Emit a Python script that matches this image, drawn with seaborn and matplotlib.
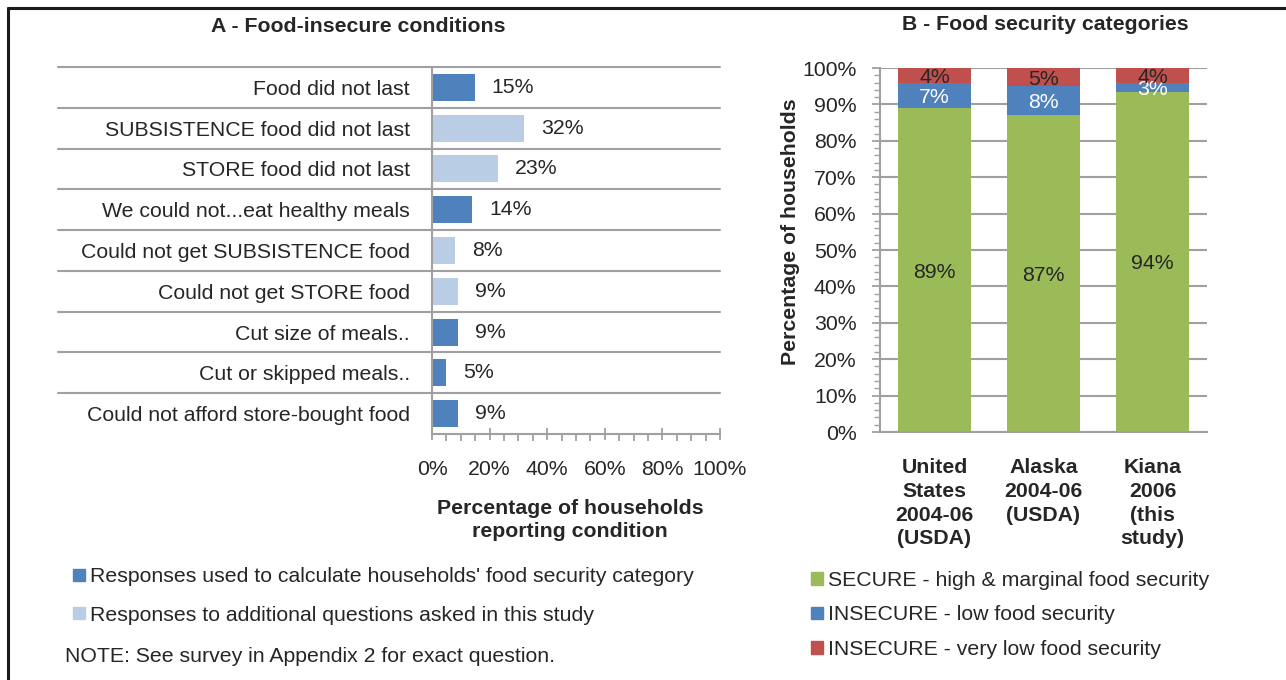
import matplotlib
matplotlib.use("Agg")
import matplotlib.pyplot as plt
import matplotlib.ticker as mticker
from matplotlib.patches import Patch
from matplotlib.lines import Line2D
import numpy as np
import pandas as pd
import seaborn as sns

# ---- panel A data
conditions = ["Food did not last", "SUBSISTENCE food did not last", "STORE food did not last",
              "We could not...eat healthy meals", "Could not get SUBSISTENCE food",
              "Could not get STORE food", "Cut size of meals..", "Cut or skipped meals..",
              "Could not afford store-bought food"]
pct_reporting = [15, 32, 23, 14, 8, 9, 9, 5, 9]
response_type = ["used", "additional", "additional", "used", "additional",
                 "additional", "used", "used", "used"]
legend_a = {"used": "Responses used to calculate households' food security category",
            "additional": "Responses to additional questions asked in this study"}

# ---- panel B data
regions = ["United\nStates\n2004-06\n(USDA)", "Alaska\n2004-06\n(USDA)", "Kiana\n2006\n(this\nstudy)"]
secure = [89, 87, 93.5]
low_security = [7, 8, 2.5]
very_low_security = [4, 5, 4]
legend_b = ["SECURE - high & marginal food security", "INSECURE - low food security",
            "INSECURE - very low food security"]

dark_blue, light_blue = "#4F81BD", "#B9CDE5"
green, red = "#9BBB59", "#C0504D"
grey = "#A0A0A0"
txt = "#262626"
fs = 15.3

sns.set_theme(style="white")
plt.rcParams["font.family"] = ["Liberation Sans", "Arial", "DejaVu Sans"]
plt.rcParams["text.color"] = txt
plt.rcParams["axes.labelcolor"] = txt
plt.rcParams["xtick.color"] = grey
plt.rcParams["ytick.color"] = grey
plt.rcParams["xtick.labelcolor"] = txt
plt.rcParams["ytick.labelcolor"] = txt

W, H = 1286, 680
fig = plt.figure(figsize=(W / 100, H / 100), dpi=100)

def fig_box(x0, y0, x1, y1):
    # pixel box (top-left origin) -> figure fraction rect
    return [x0 / W, 1 - y1 / H, (x1 - x0) / W, (y1 - y0) / H]

# ================= Panel A
axa = fig.add_axes(fig_box(432, 67, 720, 434))
df_a = pd.DataFrame({"condition": conditions, "pct": pct_reporting, "type": response_type})
sns.barplot(data=df_a, x="pct", y="condition", hue="type", orient="h", dodge=False,
            palette={"used": dark_blue, "additional": light_blue}, saturation=1,
            width=0.66, linewidth=0, legend=False, ax=axa)
for c in axa.containers:
    axa.bar_label(c, fmt="{:.0f}%", padding=12, fontsize=fs, color=txt)

axa.set_xlim(0, 100)
axa.set_ylim(len(conditions) - 0.5, -0.5)
axa.xaxis.set_major_locator(mticker.MultipleLocator(20))
axa.xaxis.set_minor_locator(mticker.MultipleLocator(5))
axa.xaxis.set_major_formatter(mticker.FuncFormatter(lambda v, p: f"{v:.0f}%"))
axa.tick_params(axis="x", which="both", bottom=True)
axa.tick_params(axis="x", which="major", direction="inout", length=9, width=1.3,
                pad=14.5, labelsize=fs)
axa.tick_params(axis="x", which="minor", direction="out", length=5, width=1.3)
axa.tick_params(axis="y", length=0, pad=16, labelsize=fs)
for s in ["top", "right"]:
    axa.spines[s].set_visible(False)
for s in ["left", "bottom"]:
    axa.spines[s].set_color(grey)
    axa.spines[s].set_linewidth(1.5)
# row separators stretching under the labels
for i in range(len(conditions)):
    axa.plot([-1.3, 1.0], [i - 0.5, i - 0.5], color=grey, lw=1.5,
             transform=axa.get_yaxis_transform(), clip_on=False, zorder=0)
axa.set_ylabel("")
axa.set_xlabel("Percentage of households\nreporting condition", fontsize=fs,
               fontweight="bold", linespacing=1.27)
axa.xaxis.set_label_coords((570 - 432) / 288, -(499 - 434) / 367)

# ================= Panel B
axb = fig.add_axes(fig_box(880, 68, 1207, 432))
sec = np.array(secure)
lowc = sec + np.array(low_security)
tot = lowc + np.array(very_low_security)
sns.barplot(x=regions, y=tot, color=red, saturation=1, width=0.67, linewidth=0, ax=axb)
sns.barplot(x=regions, y=lowc, color=dark_blue, saturation=1, width=0.67, linewidth=0, ax=axb)
sns.barplot(x=regions, y=sec, color=green, saturation=1, width=0.67, linewidth=0, ax=axb)
for i in range(len(regions)):
    axb.text(i, sec[i] / 2, f"{int(secure[i] + 0.5)}%", ha="center", va="center_baseline",
             fontsize=fs, color=txt)
    axb.text(i, (sec[i] + lowc[i]) / 2, f"{int(low_security[i] + 0.5)}%", ha="center",
             va="center_baseline", fontsize=fs, color="white")
    axb.text(i, (lowc[i] + tot[i]) / 2, f"{int(very_low_security[i] + 0.5)}%", ha="center",
             va="center_baseline", fontsize=fs, color=txt)

axb.set_ylim(0, 100)
axb.set_xlim(-0.5, len(regions) - 0.5)
axb.yaxis.set_major_locator(mticker.MultipleLocator(10))
axb.yaxis.set_minor_locator(mticker.MultipleLocator(2))
axb.yaxis.set_major_formatter(mticker.FuncFormatter(lambda v, p: f"{v:.0f}%"))
axb.yaxis.grid(True, which="major", color=grey, lw=1.5)
axb.set_axisbelow(True)
axb.tick_params(axis="y", which="both", left=True)
axb.tick_params(axis="y", which="major", direction="out", length=6, width=1.3,
                pad=11, labelsize=fs)
axb.tick_params(axis="y", which="minor", direction="out", length=4, width=1)
axb.tick_params(axis="x", length=0, pad=19, labelsize=fs)
for lab in axb.get_xticklabels():
    lab.set_fontweight("bold")
    lab.set_linespacing(1.31)
for s in ["top", "right"]:
    axb.spines[s].set_visible(False)
for s in ["left", "bottom"]:
    axb.spines[s].set_color(grey)
    axb.spines[s].set_linewidth(1.5)
axb.set_ylabel("Percentage of households", fontsize=fs, fontweight="bold")
axb.yaxis.set_label_coords((800 - 880) / 327, (432 - 232) / 364)

# ================= titles, legends, note
fig.text(358 / W, 1 - 27 / H, "A - Food-insecure conditions", ha="center", va="center",
         fontsize=fs, fontweight="bold")
fig.text(1045 / W, 1 - 25 / H, "B - Food security categories", ha="center", va="center",
         fontsize=fs, fontweight="bold")

handles_a = [Patch(color=dark_blue, label=legend_a["used"]),
             Patch(color=light_blue, label=legend_a["additional"])]
fig.legend(handles=handles_a, loc="center left", bbox_to_anchor=(73 / W, 1 - 596 / H),
           frameon=False, fontsize=fs, handlelength=0.55, handleheight=0.55,
           handletextpad=0.25, labelspacing=0.9, borderpad=0, borderaxespad=0)

handles_b = [Patch(color=c, label=l) for c, l in zip([green, dark_blue, red], legend_b)]
fig.legend(handles=handles_b, loc="center left", bbox_to_anchor=(811 / W, 1 - 615 / H),
           frameon=False, fontsize=fs, handlelength=0.55, handleheight=0.55,
           handletextpad=0.25, labelspacing=0.73, borderpad=0, borderaxespad=0)

fig.text(65 / W, 1 - 657 / H, "NOTE: See survey in Appendix 2 for exact question.",
         ha="left", va="center", fontsize=fs)

# outer frame (top and left edges)
fig.add_artist(Line2D([8 / W, 1], [1 - 8 / H, 1 - 8 / H], color="#1a1a1a", lw=2.2))
fig.add_artist(Line2D([8 / W, 8 / W], [0, 1 - 8 / H], color="#1a1a1a", lw=2.2))

fig.savefig("out.png", dpi=100, facecolor="white")
